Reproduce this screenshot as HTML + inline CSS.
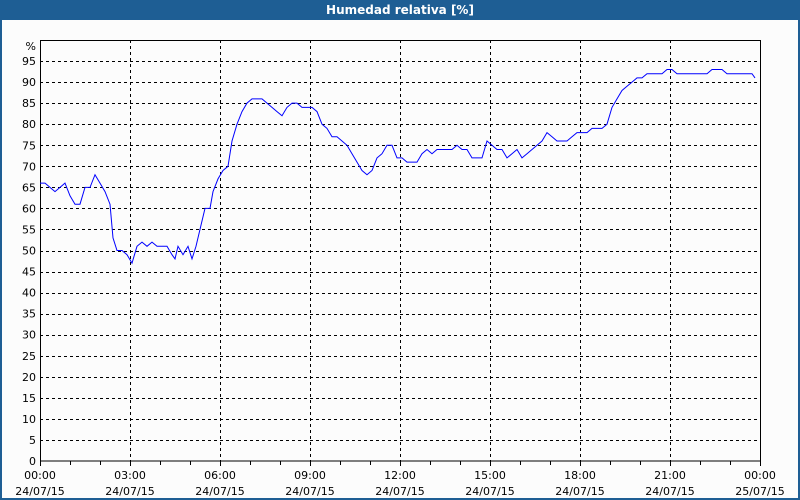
<!DOCTYPE html>
<html><head><meta charset="utf-8"><style>
html,body{margin:0;padding:0;background:#fff}
#w{position:relative;width:800px;height:500px;background:#fcfcfc;box-sizing:border-box;border:2px solid #1e5e94;border-top:none;overflow:hidden}
#t{position:absolute;left:0;top:0;width:796px;height:20px;background:#1e5e94;color:#fff;font:bold 12px "DejaVu Sans","Liberation Sans",sans-serif;text-align:center;line-height:20px}
svg{position:absolute;left:-2px;top:0}
text{font-family:"DejaVu Sans","Liberation Sans",sans-serif;font-size:11px;fill:#000}
</style></head><body>
<div id="w"><div id="t">Humedad relativa [%]</div>
<svg id="s" width="800" height="500" xmlns="http://www.w3.org/2000/svg"></svg></div>
<script>
var s=document.getElementById('s'),h='';
function Y(v){return 461-v*4.21;}
for(var v=5;v<=95;v+=5){var y=Math.round(Y(v))+.5;h+='<line x1="40" x2="760" y1="'+y+'" y2="'+y+'" stroke="#000" stroke-dasharray="3,3"/>';}
for(var i=0;i<=8;i++){var x=40+i*90+.5;if(i>0&&i<8)h+='<line x1="'+x+'" x2="'+x+'" y1="40" y2="461" stroke="#000" stroke-dasharray="3,3"/>';}
for(var i=0;i<=24;i++){var x=40+i*30+.5;h+='<line x1="'+x+'" x2="'+x+'" y1="461" y2="'+(i%3==0?466:465)+'" stroke="#000"/>';}
h+='<rect x="40.5" y="40.5" width="720" height="420.5" fill="none" stroke="#000"/>';
for(var v=0;v<=95;v+=5)h+='<text x="36" y="'+(Y(v)+4)+'" text-anchor="end">'+v+'</text>';
h+='<text x="36" y="50" text-anchor="end">%</text>';
var lb=['00:00','03:00','06:00','09:00','12:00','15:00','18:00','21:00','00:00'];
for(var i=0;i<=8;i++){var x=40+i*90;h+='<text x="'+x+'" y="479" text-anchor="middle">'+lb[i]+'</text><text x="'+x+'" y="495" text-anchor="middle">'+(i==8?'25/07/15':'24/07/15')+'</text>';}
var d=[40,66,45,66,50,65,55,64,60,65,65,66,70,63,75,61,80,61,85,65,90,65,95,68,100,66,105,64,110,61,113,53,117,50,122,50,127,49,132,47,137,51,142,52,147,51,152,52,157,51,162,51,167,51,172,49,175,48,178,51,183,49,188,51,192,48,196,51,200,55,205,60,210,60,213,64,218,67,223,69,228,70,232,76,237,80,242,83,247,85,252,86,257,86,262,86,267,85,272,84,277,83,282,82,287,84,292,85,297,85,302,84,307,84,312,84,317,83,322,80,327,79,332,77,337,77,342,76,347,75,352,73,357,71,362,69,367,68,372,69,377,72,382,73,387,75,392,75,397,72,402,72,407,71,412,71,417,71,422,73,427,74,432,73,437,74,442,74,447,74,452,74,457,75,462,74,467,74,472,72,477,72,482,72,487,76,492,75,497,74,502,74,507,72,512,73,517,74,522,72,527,73,532,74,537,75,542,76,547,78,552,77,557,76,562,76,567,76,572,77,577,78,582,78,587,78,592,79,597,79,602,79,607,80,612,84,617,86,622,88,627,89,632,90,637,91,642,91,647,92,652,92,657,92,662,92,667,93,672,93,677,92,682,92,687,92,692,92,697,92,702,92,707,92,712,93,717,93,722,93,727,92,732,92,737,92,742,92,747,92,752,92,755,91];
var p='';for(var i=0;i<d.length;i+=2)p+=d[i]+','+Y(d[i+1]).toFixed(1)+' ';
h+='<polyline points="'+p+'" fill="none" stroke="#0000ff" stroke-width="1"/>';
s.innerHTML=h;
</script>
</body></html>
